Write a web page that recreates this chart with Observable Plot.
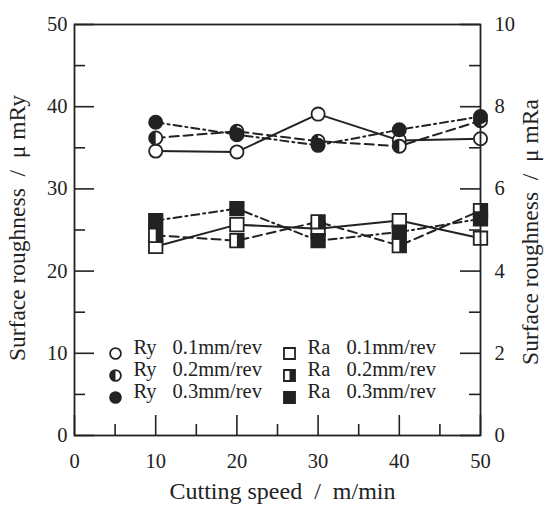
<!DOCTYPE html>
<html>
<head>
<meta charset="utf-8">
<script src="https://cdn.jsdelivr.net/npm/d3@7"></script>
<script src="https://cdn.jsdelivr.net/npm/@observablehq/plot@0.6"></script>
<style>
  html, body { margin: 0; padding: 0; background: #fff; }
  #chart svg { display: block; }
</style>
</head>
<body>
<div id="chart"></div>
<script>
// Cutting speed (m/min)
const speeds = [10, 20, 30, 40, 50];

// Maximum height roughness Ry (µm, left axis)
const ry01 = [34.6, 34.5, 39.1, 35.9, 36.1];
const ry02 = [36.2, 37.0, 35.8, 35.2, 38.3];
const ry03 = [38.1, 36.6, 35.3, 37.2, 38.8];

// Arithmetic mean roughness Ra (µm, right axis)
const ra01 = [4.60, 5.13, 5.03, 5.23, 4.80];
const ra02 = [4.87, 4.74, 5.20, 4.62, 5.47];
const ra03 = [5.23, 5.52, 4.74, 4.95, 5.27];

const leftTicks = [0, 10, 20, 30, 40, 50];
const rightTicks = [0, 2, 4, 6, 8, 10];
const xTicks = [0, 10, 20, 30, 40, 50];

const legendLabels = [
  ["Ry", "0.1mm/rev"], ["Ry", "0.2mm/rev"], ["Ry", "0.3mm/rev"],
  ["Ra", "0.1mm/rev"], ["Ra", "0.2mm/rev"], ["Ra", "0.3mm/rev"]
];

// Ra shares the frame with Ry: 10 µm Ra spans the same height as 50 µm Ry
const raToRy = 50 / 10;

const ink = "#222";
const W = 547, H = 507;
const margin = {top: 24, right: 67, bottom: 72, left: 74};
const frameW = W - margin.left - margin.right;
const frameH = H - margin.top - margin.bottom;

// Half-filled marker shapes
const halfCircleLeft = {
  draw(ctx, size) {
    const r = Math.sqrt(size / Math.PI);
    ctx.moveTo(0, -r);
    ctx.arc(0, 0, r, -Math.PI / 2, Math.PI / 2, true);
    ctx.closePath();
  }
};
const halfSquareRight = {
  draw(ctx, size) {
    const s = Math.sqrt(size);
    ctx.rect(0, -s / 2, s / 2, s);
  }
};

const series = [
  {name: "Ry 0.1", values: ry01, scale: 1, shape: "circle", fill: "open", dash: null},
  {name: "Ry 0.2", values: ry02, scale: 1, shape: "circle", fill: "half", dash: "9,5"},
  {name: "Ry 0.3", values: ry03, scale: 1, shape: "circle", fill: "full", dash: "8,4,2,4"},
  {name: "Ra 0.1", values: ra01, scale: raToRy, shape: "square", fill: "open", dash: null},
  {name: "Ra 0.2", values: ra02, scale: raToRy, shape: "square", fill: "half", dash: "9,5"},
  {name: "Ra 0.3", values: ra03, scale: raToRy, shape: "square", fill: "full", dash: "8,4,2,4"}
];

const rows = series.map(s => speeds.map((sp, i) => ({speed: sp, y: s.values[i] * s.scale, series: s.name})));

const circleR = 6.6;
const squareR = 7.6;

function markerMarks(data, s, opts, rScale = 1) {
  const r = (s.shape === "circle" ? circleR : squareR) * rScale;
  const marks = [];
  marks.push(Plot.dot(data, {...opts, r, symbol: s.shape,
    fill: s.fill === "full" ? ink : "white", stroke: ink, strokeWidth: 1.8}));
  if (s.fill === "half") {
    marks.push(Plot.dot(data, {...opts, r, symbol: s.shape === "circle" ? halfCircleLeft : halfSquareRight,
      fill: ink, stroke: "none"}));
  }
  return marks;
}

const marks = [];

// Inward ticks on all three axes
const minorLeft = [5, 15, 25, 35, 45];
const minorX = [5, 15, 25, 35, 45];
marks.push(Plot.tickY(leftTicks, {y: d => d, insetRight: frameW - 20, stroke: ink, strokeWidth: 1.6}));
marks.push(Plot.tickY(minorLeft, {y: d => d, insetRight: frameW - 11, stroke: ink, strokeWidth: 1.6}));
marks.push(Plot.tickY(rightTicks, {y: d => d * raToRy, insetLeft: frameW - 20, stroke: ink, strokeWidth: 1.6}));
marks.push(Plot.tickY(minorLeft, {y: d => d, insetLeft: frameW - 11, stroke: ink, strokeWidth: 1.6}));
marks.push(Plot.tickX(xTicks, {x: d => d, insetTop: frameH - 20, stroke: ink, strokeWidth: 1.6}));
marks.push(Plot.tickX(minorX, {x: d => d, insetTop: frameH - 11, stroke: ink, strokeWidth: 1.6}));

// Series lines
series.forEach((s, k) => {
  marks.push(Plot.line(rows[k], {x: "speed", y: "y", stroke: ink, strokeWidth: 2,
    strokeDasharray: s.dash ?? undefined}));
});
// Series markers
series.forEach((s, k) => {
  marks.push(...markerMarks(rows[k], s, {x: "speed", y: "y"}));
});

// Legend inside the frame, lower left
const legendFont = 20.5;
series.forEach((s, k) => {
  const col = k < 3 ? 0 : 1;
  const row = k % 3;
  const dx = col === 0 ? 41 : 215;
  const dy = -82 + row * 22;
  const item = [s.name];
  marks.push(...markerMarks(item, s, {frameAnchor: "bottom-left", dx, dy}, 0.82));
  marks.push(Plot.text(item, {frameAnchor: "bottom-left", dx: dx + 18, dy, text: () => legendLabels[k][0],
    textAnchor: "start", fontSize: legendFont, fill: ink}));
  marks.push(Plot.text(item, {frameAnchor: "bottom-left", dx: dx + 57, dy, text: () => legendLabels[k][1],
    textAnchor: "start", fontSize: legendFont, fill: ink}));
});

// Axes (labels only; ticks drawn inward above)
marks.push(Plot.axisY(leftTicks, {anchor: "left", tickSize: 0, tickPadding: 7, fontSize: 20.5, label: null}));
marks.push(Plot.axisY(rightTicks.map(d => d * raToRy), {anchor: "right", tickSize: 0, tickPadding: 14, fontSize: 20.5,
  tickFormat: d => d / raToRy, label: null}));
marks.push(Plot.axisX(xTicks, {anchor: "bottom", tickSize: 0, tickPadding: 18, fontSize: 20.5, label: null}));
marks.push(Plot.frame({stroke: ink, strokeWidth: 1.8}));

// Axis titles
marks.push(Plot.text(["Cutting speed\u00a0\u00a0/\u00a0\u00a0m/min"], {frameAnchor: "bottom", dx: 5, dy: 63, text: d => d,
  textAnchor: "middle", fontSize: 24, fill: ink}));
marks.push(Plot.text(["Surface roughness\u00a0\u00a0/\u00a0\u00a0\u03bc mRy"], {frameAnchor: "left", dx: -57, dy: -2,
  textAnchor: "middle", rotate: -90, text: d => d, fontSize: 23.5, fill: ink}));
marks.push(Plot.text(["Surface roughness\u00a0\u00a0/\u00a0\u00a0\u03bc mRa"], {frameAnchor: "right", dx: 50, dy: 2,
  textAnchor: "middle", rotate: -90, text: d => d, fontSize: 23.5, fill: ink}));

const chart = Plot.plot({
  width: W,
  height: H,
  marginTop: margin.top,
  marginRight: margin.right,
  marginBottom: margin.bottom,
  marginLeft: margin.left,
  style: {fontFamily: "'Liberation Serif', 'DejaVu Serif', serif", color: ink, background: "white", overflow: "visible"},
  x: {domain: [0, 50]},
  y: {domain: [0, 50]},
  marks
});
document.getElementById("chart").appendChild(chart);
</script>
</body>
</html>
